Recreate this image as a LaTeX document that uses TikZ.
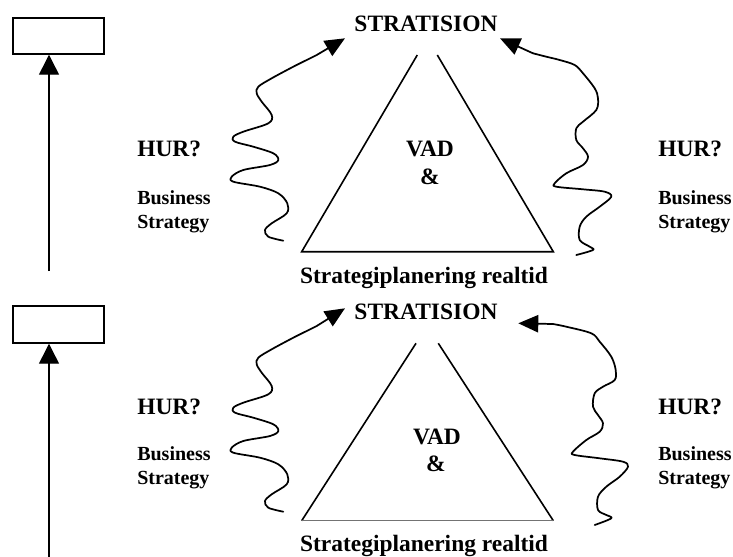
\documentclass[tikz,border=0pt]{standalone}
\usepackage{fontspec}
\setmainfont{Liberation Serif}
\usetikzlibrary{arrows.meta}
\begin{document}
\begin{tikzpicture}[x=0.75pt,y=-0.75pt,
  big/.style={font=\fontsize{17.6pt}{20pt}\selectfont\bfseries, inner sep=0pt},
  small/.style={font=\fontsize{15pt}{17.3pt}\selectfont\bfseries, inner sep=0pt, align=left},
  emptybox/.style={draw, line width=1.1pt, minimum width=68.25pt, minimum height=27pt, inner sep=0pt},
  wave/.style={line width=1.3pt, line join=round, line cap=round},
  tri/.style={line width=1.2pt},
  vtip/.style={-{Triangle[length=15pt,width=15pt]}, line width=1.1pt},
  ctip/.style={-{Triangle[length=15pt,width=13pt]}, line width=1.3pt},
]
\useasboundingbox (0,0) rectangle (733,557);

% ---------------- top half ----------------
\node[emptybox] (box1) at (58.5,36) {};
\coordinate (a1) at (49,271);
\draw[vtip] (a1) -- (a1 |- box1.south);

\node[big, anchor=base] (strat1) at (426,31.7) {STRATISION};
\node[big, anchor=base] (vad1) at (430,156.7) {VAD};
\node[big, anchor=base] (amp1) at (430,184) {\&};
\node[big, anchor=base] (plan1) at (424,283.3) {Strategiplanering realtid};

\node[big, anchor=base west] (hurL1) at (137,156) {HUR?};
\node[small, anchor=base west] (bsL1) at (137,228) {Business\\Strategy};
\node[big, anchor=base west] (hurR1) at (658,156) {HUR?};
\node[small, anchor=base west] (bsR1) at (658,228) {Business\\Strategy};

\coordinate (t1a) at (417.3,55);
\coordinate (t1b) at (437.3,55);
\coordinate (t1l) at (301.7,251.7);
\coordinate (t1r) at (553.3,251.7);
\draw[tri] (t1a) -- (t1l) -- (t1r) -- (t1b);

\coordinate (wl1e) at (316.7,55);
\coordinate (tipL1) at (345,38.3);
\draw[wave] plot[smooth, tension=0.55] coordinates {
 (283.3,240.7) (268.3,236.7) (265,230) (271.7,223.3) (286.7,213.3) (287.3,203.3)
 (278.3,193.3) (260,186.7) (233.3,181.7) (231.7,176.7) (243.3,170) (270,165)
 (278.3,160) (273.3,153.3) (253.3,146.7) (235,141.7) (233.3,136.7) (243.3,131.7)
 (268.3,123.3) (271.7,115) (261.7,101.7) (256.7,93.3) (258.3,86.7) (271.7,78.3)
 (293.3,66.7) (306.7,60) (316.7,55)};
\draw[ctip] (wl1e) -- (tipL1);

\coordinate (wr1e) at (533,53.3);
\coordinate (tipR1) at (500,38.3);
\draw[wave] plot[smooth, tension=0.55] coordinates {
 (576.3,255) (593,250) (589.7,246.7) (579.7,240) (579.7,226.7) (586.3,216.7)
 (599.7,206.7) (611.3,196.7) (604.7,191.7) (583,189.3) (556.3,186.7) (554.7,183.3)
 (566.3,173.3) (583,165) (588,156.7) (583,148.3) (576.3,140) (576.3,128.3)
 (583,121.7) (596.3,110) (598,98.3) (594.7,88.3) (583,73.3) (574.7,65)
 (559.7,60) (546.3,56.7) (533,53.3)};
\draw[ctip] (wr1e) -- (tipR1);

% ---------------- bottom half ----------------
\node[emptybox, minimum height=27.75pt] (box2) at (58.5,324.5) {};
\coordinate (a2) at (49,557);
\draw[vtip] (a2) -- (a2 |- box2.south);

\node[big, anchor=base] (strat2) at (426,319.3) {STRATISION};
\node[big, anchor=base] (vad2) at (437,444.3) {VAD};
\node[big, anchor=base] (amp2) at (436,471.7) {\&};
\node[big, anchor=base] (plan2) at (424,551.7) {Strategiplanering realtid};

\node[big, anchor=base west] (hurL2) at (137,414) {HUR?};
\node[small, anchor=base west] (bsL2) at (137,484) {Business\\Strategy};
\node[big, anchor=base west] (hurR2) at (658,414) {HUR?};
\node[small, anchor=base west] (bsR2) at (658,484) {Business\\Strategy};

\coordinate (t2a) at (416,343.3);
\coordinate (t2b) at (438.3,343.3);
\coordinate (t2l) at (301.7,520.7);
\coordinate (t2r) at (553.3,520.7);
\draw[tri] (t2a) -- (t2l);
\draw[tri] (t2b) -- (t2r);
\draw[line width=0.6pt, black!55] (t2l) -- (t2r);

\coordinate (wl2e) at (316.7,326);
\coordinate (tipL2) at (345,308.3);
\begin{scope}[yshift=-271*0.75pt]
\draw[wave] plot[smooth, tension=0.55] coordinates {
 (283.3,240.7) (268.3,236.7) (265,230) (271.7,223.3) (286.7,213.3) (287.3,203.3)
 (278.3,193.3) (260,186.7) (233.3,181.7) (231.7,176.7) (243.3,170) (270,165)
 (278.3,160) (273.3,153.3) (253.3,146.7) (235,141.7) (233.3,136.7) (243.3,131.7)
 (268.3,123.3) (271.7,115) (261.7,101.7) (256.7,93.3) (258.3,86.7) (271.7,78.3)
 (293.3,66.7) (306.7,60) (316.7,55)};
\end{scope}
\draw[ctip] (wl2e) -- (tipL2);

\coordinate (wr2e) at (553,324);
\coordinate (tipR2) at (518.3,323.3);
\draw[wave] plot[smooth, tension=0.55] coordinates {
 (594.7,525) (611.3,518.3) (606.3,515) (598,510) (598,496.7) (606.3,486.7)
 (619.7,476.7) (628,466.7) (623,461.7) (599.7,458.3) (574.7,455) (573,451.7)
 (586.3,440) (599.7,431.7) (603,423.3) (598,415) (593,406.7) (594.7,393.3)
 (603,386.7) (614.7,380) (615.7,370) (611.3,356.7) (599.7,341.7) (591.3,333.3)
 (566.3,326.7) (553,324)};
\draw[ctip] (wr2e) -- (tipR2);
\end{tikzpicture}
\end{document}
